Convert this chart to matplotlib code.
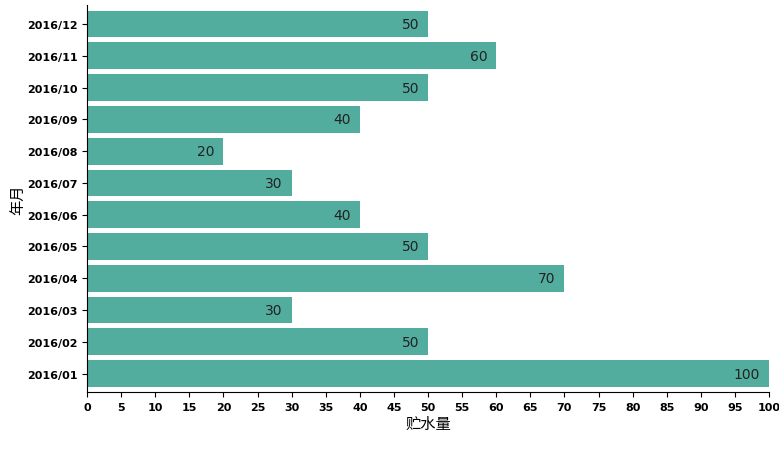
import matplotlib
matplotlib.use('Agg')
import matplotlib.pyplot as plt

plt.rcParams['font.family'] = ['Noto Sans CJK SC', 'DejaVu Sans']

months = ['2016/01', '2016/02', '2016/03', '2016/04', '2016/05', '2016/06',
          '2016/07', '2016/08', '2016/09', '2016/10', '2016/11', '2016/12']
values = [100, 50, 30, 70, 50, 40, 30, 20, 40, 50, 60, 50]

fig = plt.figure(figsize=(7.79, 4.52), dpi=100)
ax = fig.add_axes([87 / 779, 1 - 393 / 452, 682 / 779, 387 / 452])

ax.barh(range(len(months)), values, height=0.84, color='#52ad9f')
for i, v in enumerate(values):
    ax.text(v - 1.3, i, str(v), ha='right', va='center', fontsize=10, color='#222222',
            family='DejaVu Sans')

ax.set_xlim(0, 100)
ax.set_ylim(-0.58, 11.6)
ax.set_xticks(range(0, 101, 5))
ax.set_yticks(range(len(months)))
ax.set_yticklabels(months)
for lbl in ax.get_xticklabels() + ax.get_yticklabels():
    lbl.set_fontweight('bold')
    lbl.set_fontsize(8)
    lbl.set_family('DejaVu Sans')
ax.spines['top'].set_visible(False)
ax.spines['right'].set_visible(False)
ax.set_xlabel('贮水量', fontsize=11, labelpad=2)
ax.set_ylabel('年月', fontsize=11, labelpad=0)

fig.savefig('out.png', dpi=100)
